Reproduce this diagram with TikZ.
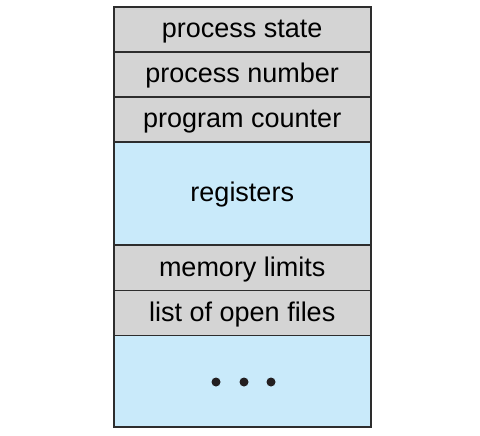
\documentclass[tikz,border=0pt]{standalone}
\usepackage{fontspec}
\setmainfont{Liberation Sans}
\definecolor{rowgray}{RGB}{212,212,212}
\definecolor{rowblue}{RGB}{201,234,250}
\definecolor{edge}{RGB}{45,45,45}
\definecolor{dotc}{RGB}{35,31,32}
\begin{document}
\begin{tikzpicture}[x=1pt,y=-1pt,
  row/.style={draw=edge,line width=1.3pt,minimum width=257.5pt,inner sep=0pt,outer sep=0pt,
    font=\fontsize{27}{30}\selectfont,text height=19.6pt,text depth=2.8pt},
  grayrow/.style={row,fill=rowgray,minimum height=45pt},
  bluerow/.style={row,fill=rowblue},
  dotnode/.style={circle,fill=dotc,minimum size=9pt,inner sep=0pt}]
\useasboundingbox (0,0) rectangle (480,436);
\node[grayrow] (r1) at (242.25,29.5) {process state};
\node[grayrow] (r2) at (242.25,74.5) {process number};
\node[grayrow] (r3) at (242.25,119.5) {program counter};
\node[bluerow,minimum height=103pt] (r4) at (242.25,193.5) {registers};
\node[grayrow,minimum height=45.7pt] (r5) at (242.25,267.85) {memory limits};
\node[grayrow] (r6) at (242.25,313.2) {list of open files};
\node[bluerow,minimum height=91.6pt] (r7) at (242.25,381.5) {};
\node[dotnode] (d1) at (216,382) {};
\node[dotnode] (d2) at (244,382) {};
\node[dotnode] (d3) at (271,382) {};
\draw[edge,line width=2pt] (r1.north west) rectangle (r7.south east);
\end{tikzpicture}
\end{document}
